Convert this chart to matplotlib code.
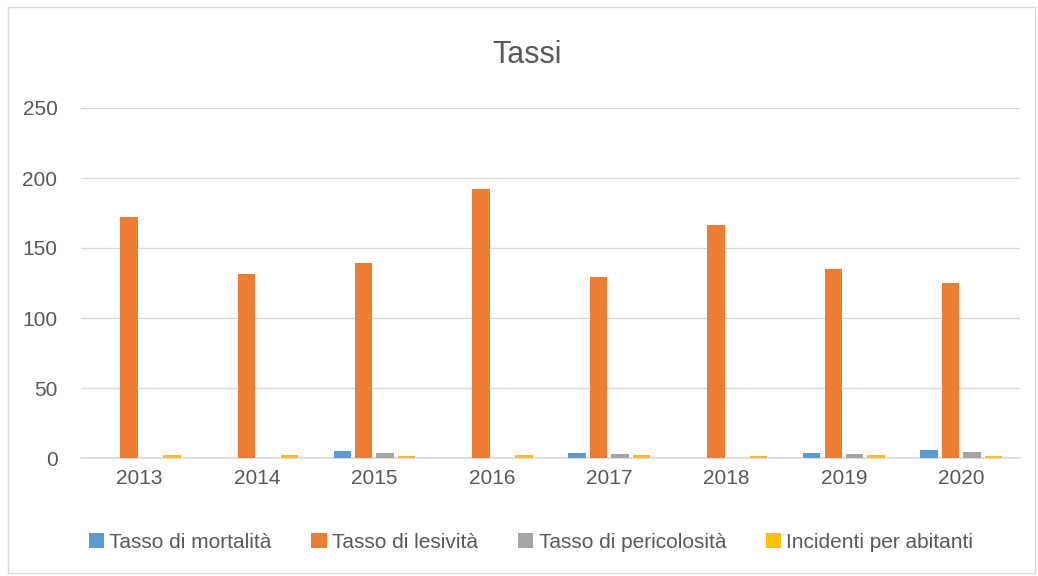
import numpy as np
import matplotlib.pyplot as plt
from matplotlib.patches import Rectangle

anni = ['2013', '2014', '2015', '2016', '2017', '2018', '2019', '2020']
mortalita = [0, 0, 4.8, 0, 3.3, 0, 3.6, 5.5]
lesivita = [172, 131.5, 139, 192, 129.5, 166.5, 135, 125]
pericolosita = [0, 0, 3.3, 0, 2.6, 0, 2.6, 4.0]
incidenti = [2.5, 1.8, 1.7, 2.5, 2.4, 1.3, 2.4, 1.5]

serie = [('Tasso di mortalità', mortalita, '#5B9BD5'),
         ('Tasso di lesività', lesivita, '#ED7D31'),
         ('Tasso di pericolosità', pericolosita, '#A5A5A5'),
         ('Incidenti per abitanti', incidenti, '#FFC000')]

plt.rcParams['font.family'] = ['Liberation Sans', 'DejaVu Sans']
testo = '#595959'

fig = plt.figure(figsize=(10.38, 5.76), dpi=100)
ax = fig.add_axes([81/1038, 1-458/576, 939/1038, 350/576])

x = np.arange(len(anni))
slot = 0.183
w = 0.148
for i, (nome, val, col) in enumerate(serie):
    ax.bar(x + (i - 1.5) * slot, val, w, color=col, label=nome, zorder=3)

ax.set_xlim(-0.5, len(anni) - 0.5)
ax.set_ylim(0, 250)
ax.set_yticks(range(0, 251, 50))
ax.set_xticks(x)
ax.set_xticklabels(anni)
ax.grid(axis='y', color='#D9D9D9', linewidth=1, zorder=0)
for s in ['top', 'right', 'left']:
    ax.spines[s].set_visible(False)
ax.spines['bottom'].set_color('#D9D9D9')
ax.spines['bottom'].set_linewidth(1.2)
ax.tick_params(length=0, labelsize=15, colors=testo, pad=8)
ax.tick_params(axis='y', pad=17)

fig.text(527/1038, 1-55/576, 'Tassi', ha='center', va='center', fontsize=22, color=testo)

fig.legend(loc='center', bbox_to_anchor=(531/1038, 1-542/576), ncol=4, frameon=False,
           fontsize=15, labelcolor=testo, handlelength=0.75, handleheight=0.75,
           handletextpad=0.25, columnspacing=1.9)

fig.patches.append(Rectangle((8/1038, 3/576), 1027/1038, 566/576, transform=fig.transFigure,
                             fill=False, edgecolor='#D9D9D9', linewidth=1))

fig.savefig('out.png', dpi=100)
